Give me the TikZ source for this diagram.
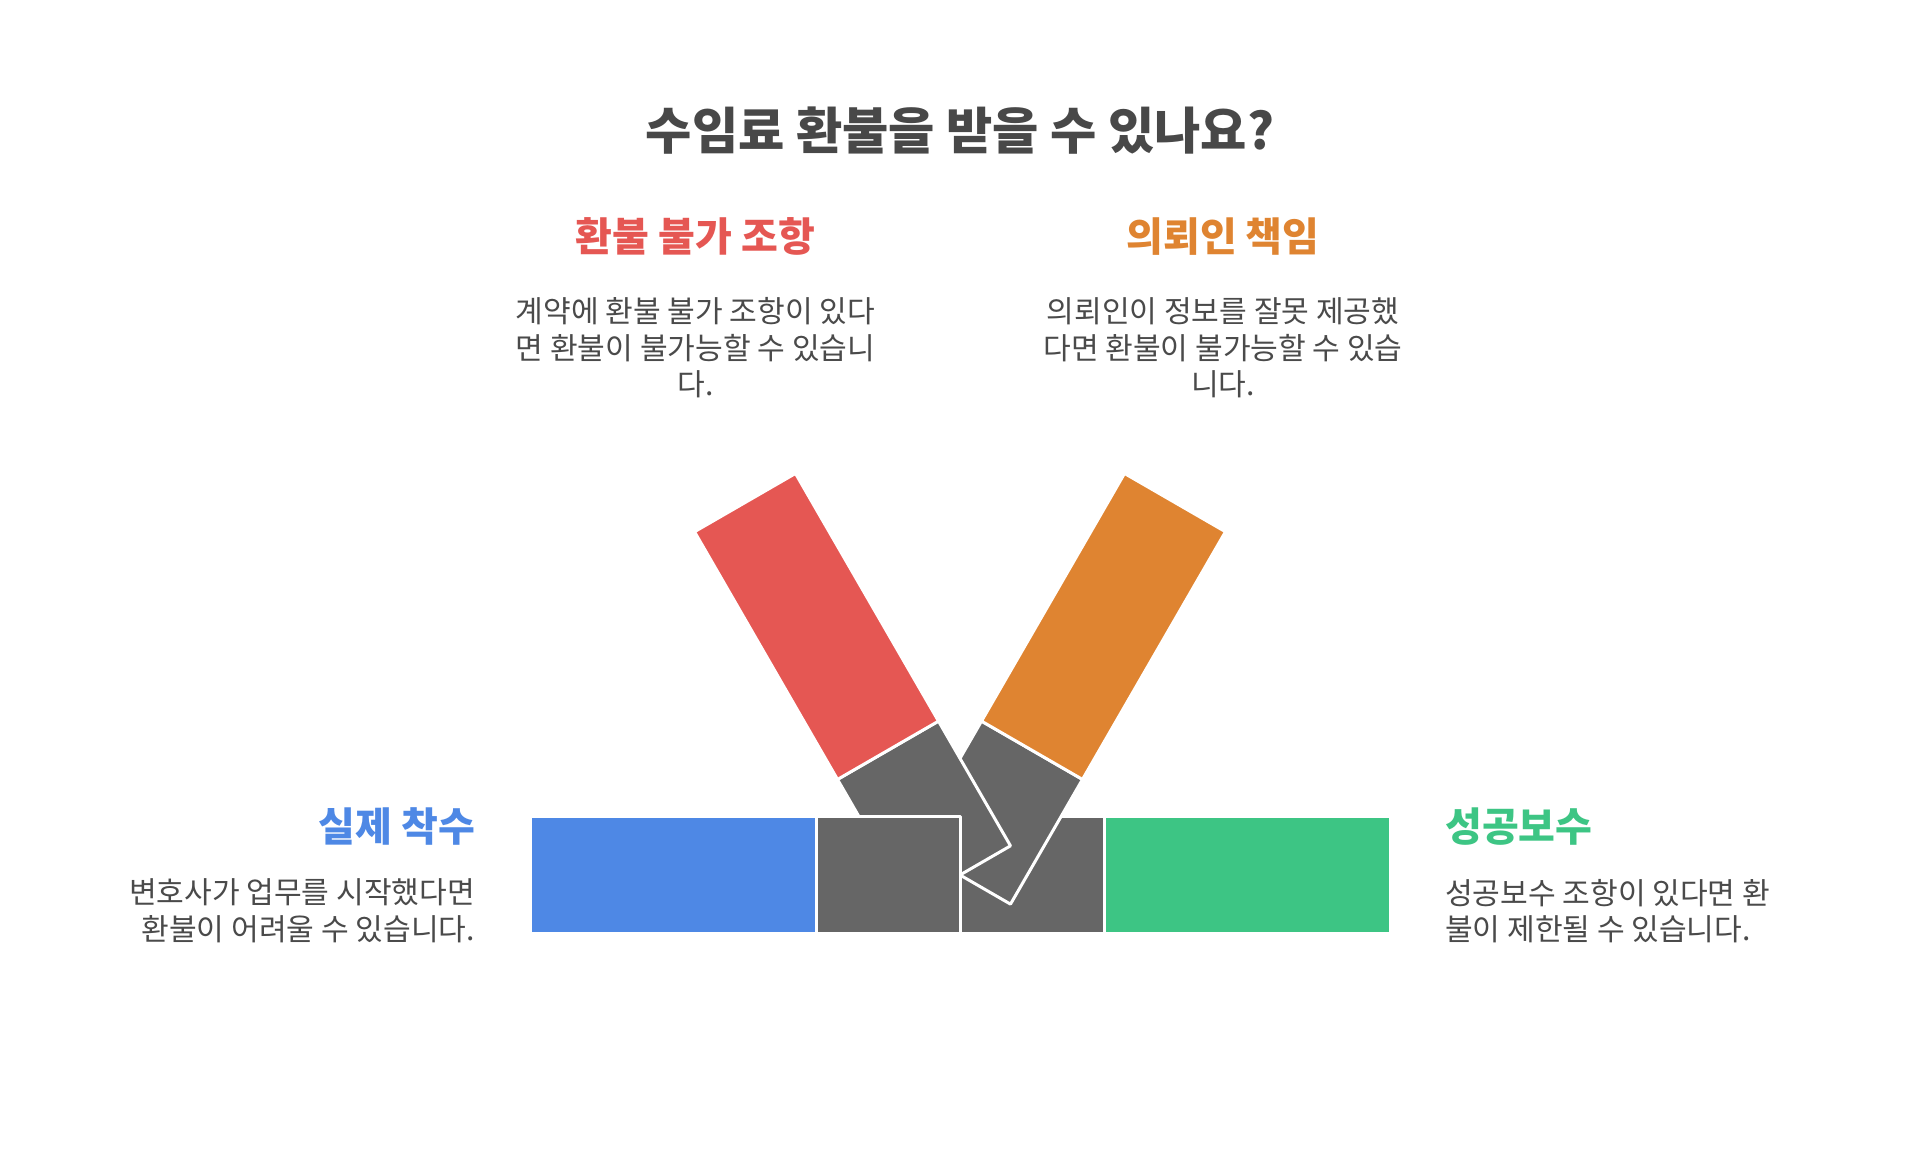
\documentclass[tikz,border=0pt]{standalone}
\usepackage{fontspec}
\newfontfamily\kr{Noto Sans CJK KR}
\definecolor{cred}{HTML}{E55753}
\definecolor{corange}{HTML}{DF8431}
\definecolor{cblue}{HTML}{4E88E5}
\definecolor{cgreen}{HTML}{3DC584}
\definecolor{cgray}{HTML}{666666}
\definecolor{ctitle}{HTML}{484848}
\definecolor{cbody}{HTML}{4A4A4A}
\begin{document}
\begin{tikzpicture}[x=1pt,y=1pt,
  piece/.style={draw=white, line width=3pt, line join=round},
  titletext/.style={font={\kr\bfseries\fontsize{50.3}{58}\selectfont}, text=ctitle, inner sep=0pt},
  headtext/.style={font={\kr\bfseries\fontsize{40}{46}\selectfont}, inner sep=0pt},
  bodytext/.style={font={\kr\fontsize{30.1}{36.7}\selectfont}, text=cbody, align=center, inner sep=0pt}]
\useasboundingbox (0,0) rectangle (1920,1153);
\fill[white] (0,0) rectangle (1920,1153);
% horizontal bar
\path[piece, fill=cblue] (530,219.7) -- (816,219.7) -- (816,336.3) -- (530,336.3) -- cycle;
\path[piece, fill=cgreen] (1104,219.7) -- (1390,219.7) -- (1390,336.3) -- (1104,336.3) -- cycle;
\path[piece, fill=cgray] (960,219.7) -- (1104,219.7) -- (1104,336.3) -- (960,336.3) -- cycle;
% orange arm
\begin{scope}[shift={(960,278)}, rotate=60]
  \path[piece, fill=cgray] (0,-58.3) -- (144,-58.3) -- (144,58.3) -- (0,58.3) -- cycle;
  \path[piece, fill=corange] (144,-58.3) -- (430,-58.3) -- (430,58.3) -- (144,58.3) -- cycle;
\end{scope}
% red arm
\begin{scope}[shift={(960,278)}, rotate=120]
  \path[piece, fill=cgray] (0,-58.3) -- (144,-58.3) -- (144,58.3) -- (0,58.3) -- cycle;
  \path[piece, fill=cred] (144,-58.3) -- (430,-58.3) -- (430,58.3) -- (144,58.3) -- cycle;
\end{scope}
\path[piece, fill=cgray] (816,219.7) -- (960,219.7) -- (960,336.3) -- (816,336.3) -- cycle;
% texts
\node[titletext] (title) at (960,1022) {수임료 환불을 받을 수 있나요?};
\node[headtext, text=cred] (h1) at (695.5,916.7) {환불 불가 조항};
\node[bodytext] (b1) at (695.5,805.2) {계약에 환불 불가 조항이 있다\\면 환불이 불가능할 수 있습니\\다.};
\node[headtext, text=corange] (h2) at (1223,916.7) {의뢰인 책임};
\node[bodytext] (b2) at (1223,805.2) {의뢰인이 정보를 잘못 제공했\\다면 환불이 불가능할 수 있습\\니다.};
\node[headtext, text=cblue, anchor=east] (h3) at (475,326.5) {실제 착수};
\node[bodytext, align=right, anchor=east] (b3) at (475,242) {변호사가 업무를 시작했다면\\환불이 어려울 수 있습니다.};
\node[headtext, text=cgreen, anchor=west] (h4) at (1445,326.5) {성공보수};
\node[bodytext, align=left, anchor=west] (b4) at (1445,242) {성공보수 조항이 있다면 환\\불이 제한될 수 있습니다.};
\end{tikzpicture}
\end{document}
